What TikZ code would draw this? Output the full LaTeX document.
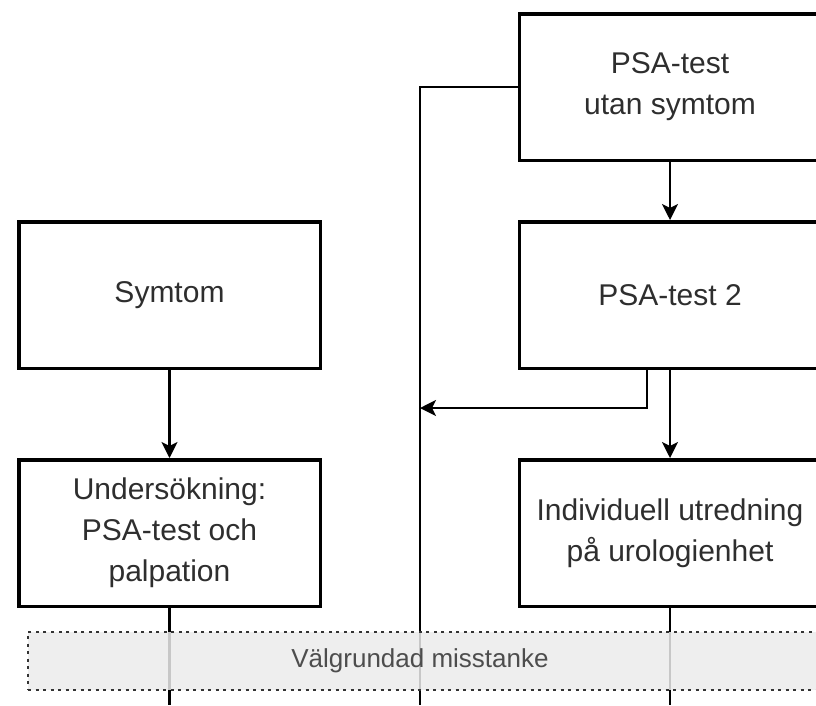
\documentclass[tikz,border=0pt]{standalone}
\usepackage{fontspec}
\setmainfont{Liberation Sans}
\usetikzlibrary{arrows.meta}
\definecolor{txtgray}{HTML}{2E2E2E}
\definecolor{bandfill}{HTML}{EBEBEB}
\definecolor{banddots}{HTML}{333333}

\begin{document}
\begin{tikzpicture}[x=1pt, y=-1pt,
  box/.style={draw, line width=3.5pt, minimum width=301.5pt, minimum height=146.5pt,
    align=center, text=txtgray, font=\fontsize{30}{41}\selectfont},
  conn/.style={line width=2.2pt},
  arr/.style={conn, -{Stealth[length=16pt, width=16pt, inset=4pt]}},
  band/.style={fill=bandfill, fill opacity=0.85, text opacity=1, draw=banddots,
    line width=2.5pt, dash pattern=on 3pt off 4.5pt, minimum width=794pt,
    minimum height=58pt},
  bandtext/.style={text=txtgray!85, font=\fontsize{26}{30}\selectfont}]
\useasboundingbox (0,0) rectangle (816,705);
\node [box] (psa1) at (670,87)  {PSA-test\\utan symtom};
\node [box] (psa2) at (670,295) {PSA-test 2};
\node [box] (utr)  at (670,533) {Individuell utredning\\på urologienhet};
\node [box] (sym)  at (169.5,295) {Symtom};
\node [box] (und)  at (169.5,533) {Undersökning:\\PSA-test och\\palpation};
\coordinate (bl) at (169.5,705);
\coordinate (bm) at (420,705);
\coordinate (br) at (670,705);
\coordinate (join) at (420,408);
\draw [arr] (psa1) -- (psa2);
\draw [arr] (psa2) -- (utr);
\draw [arr] (sym) -- (und);
\draw [conn] (psa1.west) -| (bm);
\draw [arr] ([xshift=-23pt]psa2.south) |- (join);
\draw [conn] (und) -- (bl);
\draw [conn] (utr) -- (br);
\node [band] (misstanke) at (425,661) {};
\node [bandtext] (label) at (420,661) {Välgrundad misstanke};
\end{tikzpicture}
\end{document}
